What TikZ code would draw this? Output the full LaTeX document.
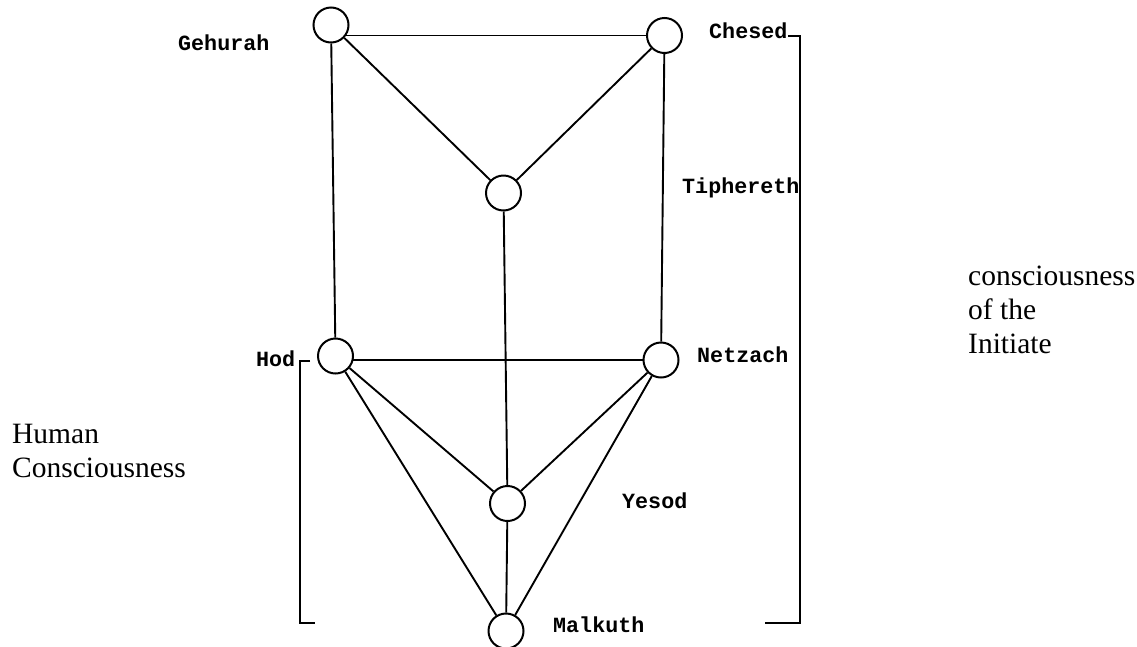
\documentclass[tikz,border=0pt]{standalone}
\usepackage{fontspec}
\setmainfont{Liberation Serif}
\newfontfamily\labfont{Liberation Mono}
\usetikzlibrary{backgrounds}
\begin{document}
\begin{tikzpicture}[x=1pt,y=-1pt,
  circ/.style={circle, draw, line width=2pt, minimum size=35pt, inner sep=0pt, fill=white},
  edge/.style={line width=1.9pt},
  brk/.style={line width=2.4pt},
  lab/.style={font=\labfont\bfseries\fontsize{21.7}{24}\selectfont, inner sep=0pt, anchor=base west},
  big/.style={font=\fontsize{29.5}{34}\selectfont, inner sep=0pt, anchor=base west, align=left}]
\useasboundingbox (0,0) rectangle (1137,646);
% nodes
\node[circ] (G) at (331,25) {};
\node[circ] (C) at (664.5,35.5) {};
\node[circ] (T) at (503.5,193) {};
\node[circ] (H) at (335.5,356) {};
\node[circ] (N) at (661,360) {};
\node[circ] (Y) at (507.5,503.5) {};
\node[circ] (M) at (506,631) {};
% edges
\begin{pgfonlayer}{background}
\draw[edge] (C.center) -- (C.center -| G.center);
\draw[edge] (G) -- (T);
\draw[edge] (C) -- (T);
\draw[edge] (G) -- (H);
\draw[edge] (C) -- (N);
\draw[edge] (T) -- (Y);
\draw[edge] (N.center) -- (N.center -| H.center);
\draw[edge] (H) -- (Y);
\draw[edge] (N) -- (Y);
\draw[edge] (H) -- (M);
\draw[edge] (N) -- (M);
\draw[edge] (Y) -- (M);
\end{pgfonlayer}
% labels
\node[lab] (lG) at (178,50) {Gehurah};
\node[lab] (lC) at (709,38) {Chesed};
\node[lab] (lT) at (682,193) {Tiphereth};
\node[lab] (lH) at (256,366) {Hod};
\node[lab] (lN) at (697,362) {Netzach};
\node[lab] (lY) at (622,508) {Yesod};
\node[lab] (lM) at (553,632) {Malkuth};
% brackets
\coordinate (rb1) at (788,36);
\coordinate (rb2) at (800,36);
\coordinate (rb3) at (800,623);
\coordinate (rb4) at (765,623);
\draw[brk] (rb1) -- (rb2) -- (rb3) -- (rb4);
\coordinate (lb1) at (310,361);
\coordinate (lb2) at (300,361);
\coordinate (lb3) at (300,623);
\coordinate (lb4) at (315,623);
\draw[brk] (lb1) -- (lb2) -- (lb3) -- (lb4);
% side texts (base anchor = last line's baseline)
\node[big] (hc) at (12,477) {Human\\Consciousness};
\node[big] (ic) at (968,353) {consciousness\\of the\\Initiate};
\end{tikzpicture}
\end{document}
